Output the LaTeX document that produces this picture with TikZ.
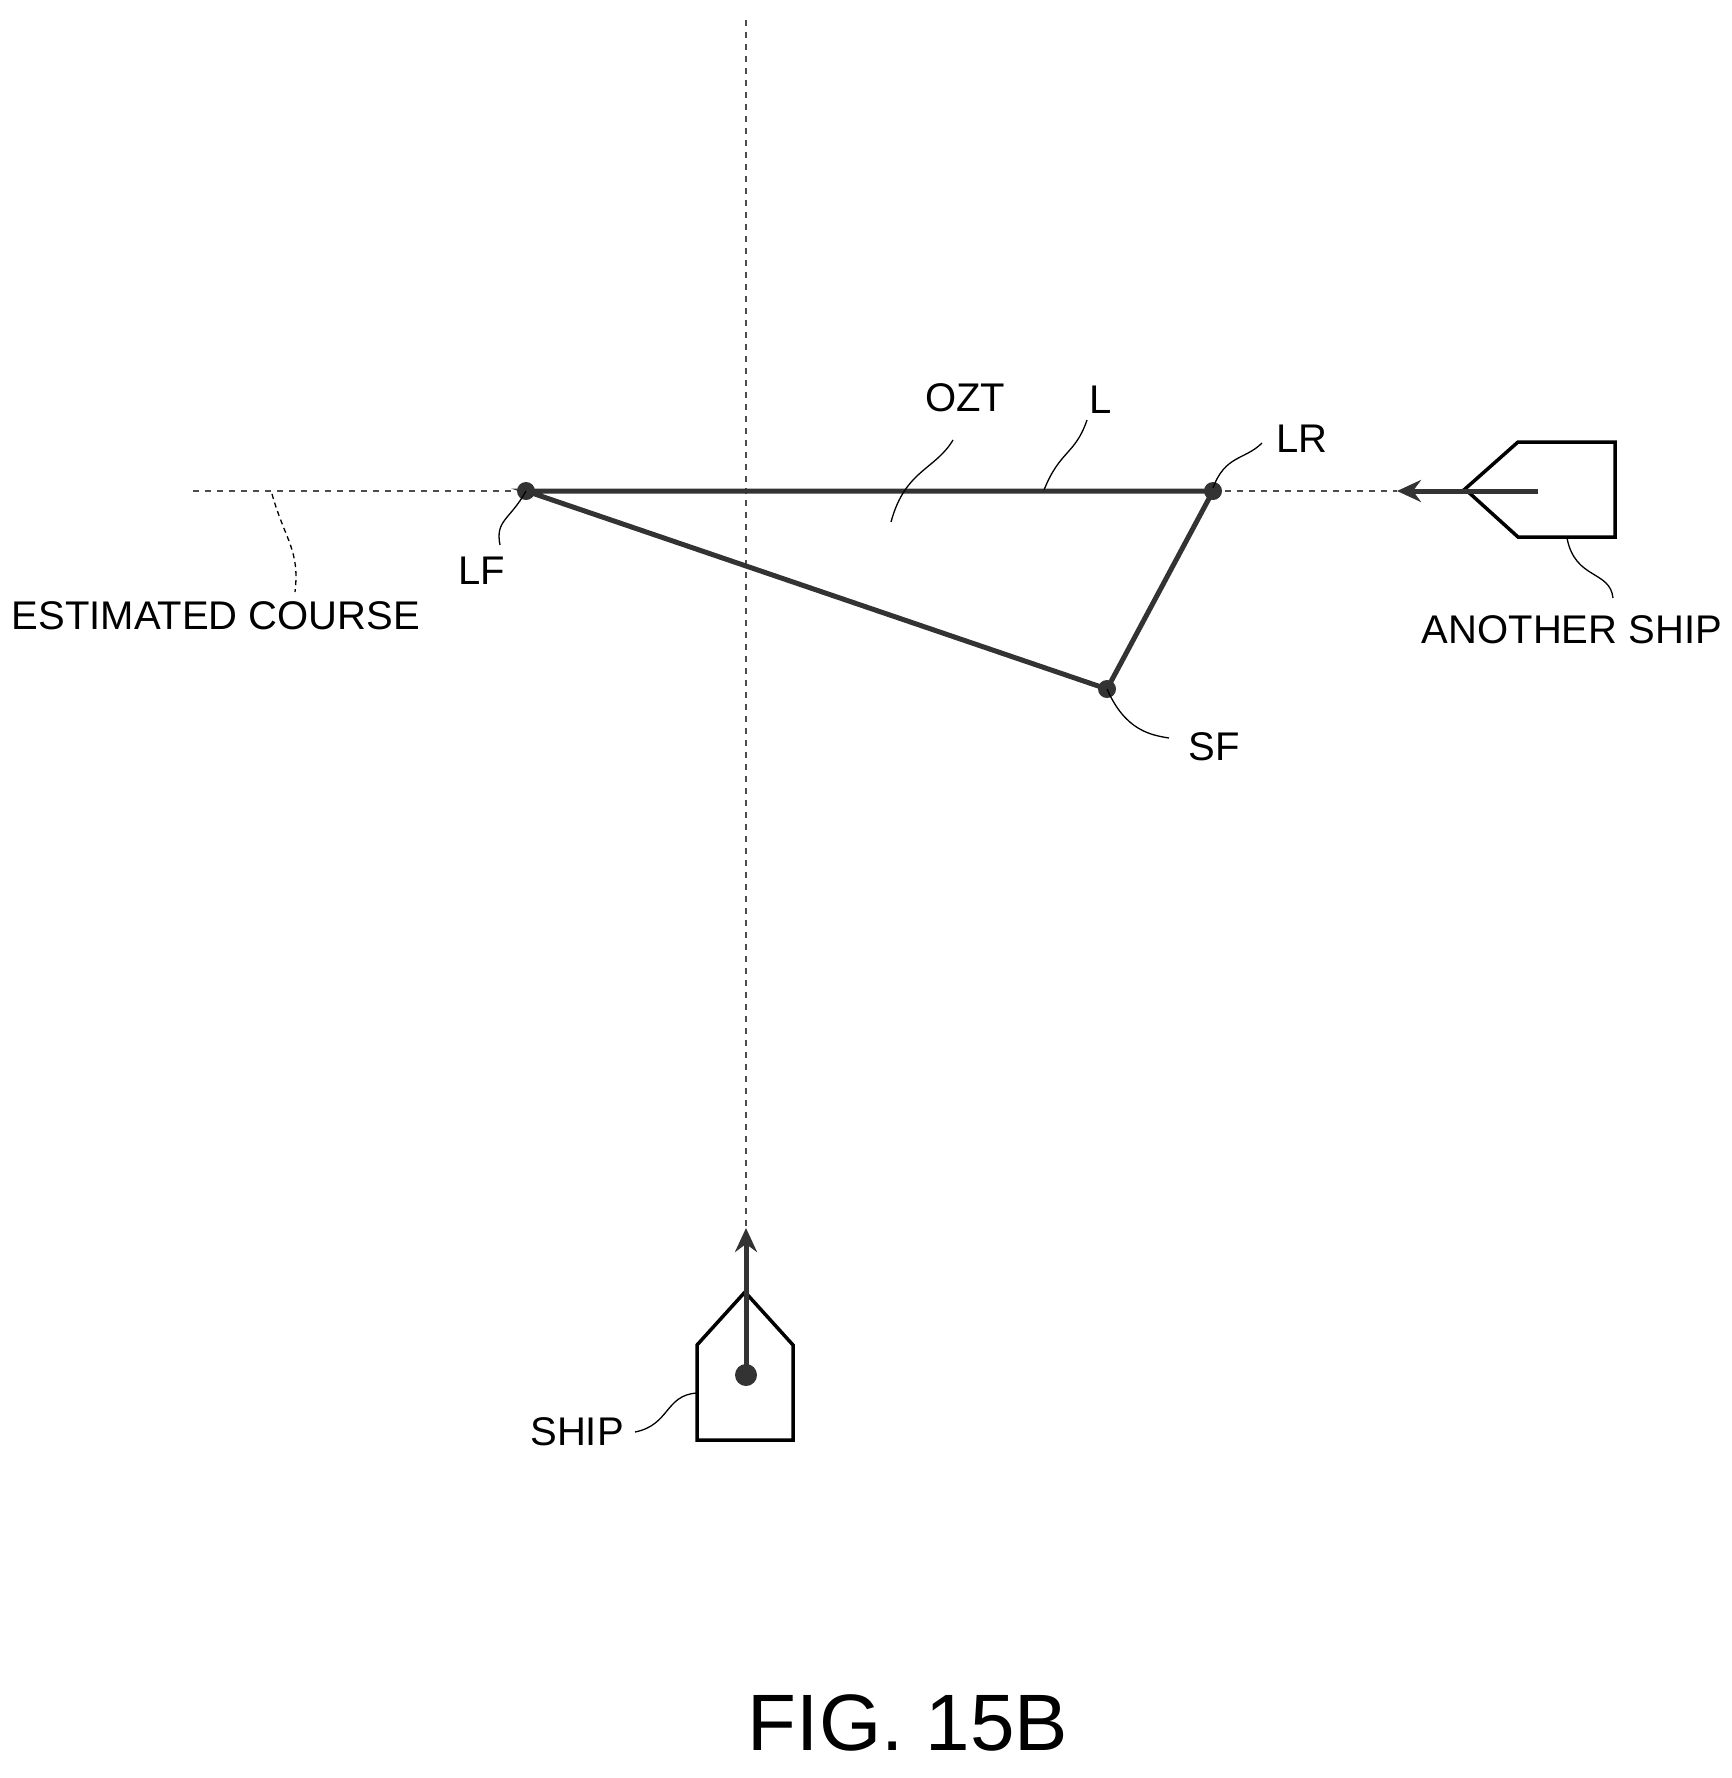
\documentclass[tikz,border=0pt]{standalone}
\usepackage{fontspec}
\setmainfont{Liberation Sans}
\usetikzlibrary{arrows.meta}
\begin{document}
\begin{tikzpicture}[x=1pt,y=-1pt,
  lbl/.style={font=\fontsize{40}{44}\selectfont, inner sep=0pt},
  dot/.style={circle, fill=black!80, inner sep=0pt, minimum size=18pt},
  thickline/.style={line width=5pt, black!80},
  dots/.style={dashed, dash pattern=on 6pt off 6pt, line width=1.5pt, black!70},
  lead/.style={line width=1.3pt},
  boat/.style={line width=3.5pt}]
\useasboundingbox (0,0) rectangle (1732,1778);
% axes
\coordinate (vtop) at (746,20);
\coordinate (vbot) at (746,1228);
\coordinate (hl) at (193,491);
\coordinate (hr) at (1397,491);
\draw[dots] (vtop) -- (vbot);
\draw[dots] (hl) -- (hr);
% points
\node[dot] (LF) at (526,491) {};
\node[dot] (LR) at (1213,491) {};
\node[dot] (SF) at (1107,689) {};
\draw[thickline] (LF.center) -- (LR.center) -- (SF.center) -- cycle;
% another ship
\draw[boat] (1465,489) -- (1518,442) -- (1615,442) -- (1615,537) -- (1518,537) -- cycle;
\coordinate (aship) at (1538,491);
\coordinate (atip) at (1397,491);
\draw[thickline, -{Stealth[length=24pt,width=22pt,inset=8pt]}] (aship) -- (atip);
% own ship
\draw[boat] (697,1440) -- (697,1345) -- (745,1292) -- (793,1345) -- (793,1440) -- cycle;
\node[dot, minimum size=22pt] (own) at (746,1375) {};
\draw[thickline, -{Stealth[length=24pt,width=22pt,inset=8pt]}] (own.center) -- (vbot);
% labels
\node[lbl] (tOZT) at (965,398) {OZT};
\node[lbl] (tL) at (1101,400) {L};
\node[lbl] (tLR) at (1302,439) {LR};
\node[lbl] (tLF) at (482,571) {LF};
\node[lbl] (tSF) at (1214,747) {SF};
\node[lbl] (tEC) at (216,616) {ESTIMATED COURSE};
\node[lbl] (tAS) at (1572,630) {ANOTHER SHIP};
\node[lbl] (tSH) at (577,1432) {SHIP};
\node[font=\fontsize{80}{90}\selectfont, inner sep=0pt] (fig) at (908,1723) {FIG. 15B};
% leaders
\draw[lead] (891,522) .. controls (905,470) and (935,470) .. (953,440);
\draw[lead] (1044,490) .. controls (1060,450) and (1075,455) .. (1087,420);
\draw[lead] (1213,488) .. controls (1225,455) and (1245,460) .. (1262,443);
\draw[lead] (LF.center) .. controls (510,520) and (495,520) .. (500,545);
\draw[lead] (SF.center) .. controls (1125,730) and (1150,735) .. (1169,738);
\draw[lead, dashed, dash pattern=on 5pt off 4pt] (272,494) .. controls (285,540) and (300,550) .. (295,592);
\draw[lead] (1567,538) .. controls (1575,580) and (1610,570) .. (1613,598);
\draw[lead] (635,1432) .. controls (670,1425) and (665,1395) .. (697,1393);
\end{tikzpicture}
\end{document}
